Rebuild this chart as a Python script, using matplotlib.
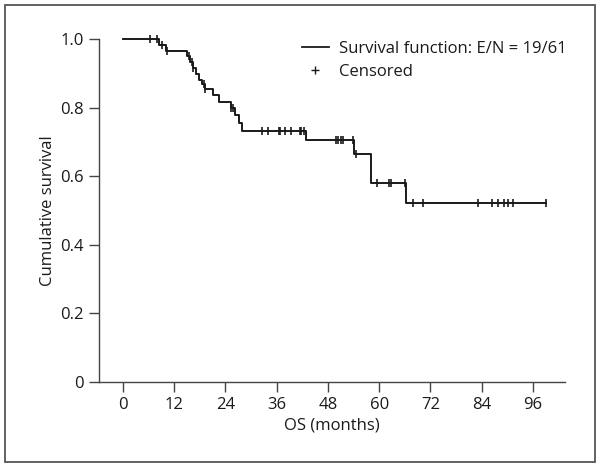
import matplotlib
matplotlib.use("Agg")
import matplotlib.pyplot as plt
import numpy as np
from matplotlib.lines import Line2D
from matplotlib.patches import Rectangle

# step function (time in months, survival after the step)
step_times = [0, 8.4, 10.2, 15.1, 15.8, 16.5, 17.2, 17.9, 18.6, 19.2, 21.2, 22.5,
              25.3, 26.2, 27.1, 27.8, 42.8, 54.2, 58.0, 66.3]
survival = [1.0, 0.984, 0.966, 0.950, 0.933, 0.916, 0.899, 0.882, 0.869, 0.856, 0.836, 0.817,
            0.800, 0.778, 0.755, 0.733, 0.705, 0.664, 0.581, 0.523]
last_time = 99.0

# censored observations
censor_times = [6.4, 8.0, 9.1, 10.4, 15.5, 16.1, 16.5, 19.0, 19.3, 25.3, 25.7,
                32.5, 33.9, 36.5, 36.8, 37.9, 39.3, 41.4, 41.8, 42.4,
                49.9, 50.4, 51.0, 51.6, 53.9, 54.6, 59.4, 62.4, 62.7, 66.0, 67.8, 70.2,
                83.2, 86.5, 87.7, 89.1, 90.2, 91.4, 99.0]

x_ticks = [0, 12, 24, 36, 48, 60, 72, 84, 96]
y_ticks = [0, 0.2, 0.4, 0.6, 0.8, 1.0]
y_labels = ["0", "0.2", "0.4", "0.6", "0.8", "1.0"]

plt.rcParams['font.family'] = ['Open Sans', 'DejaVu Sans']
plt.rcParams['font.size'] = 12

ink = "#1a1a1a"
grey = "#444444"

fig = plt.figure(figsize=(6, 4.67), dpi=100)
ax = fig.add_axes([0.165, 0.1826, 0.7767, 0.7332])

t = np.array(step_times + [last_time])
s = np.array(survival + [survival[-1]])
ax.step(t, s, where="post", color=ink, lw=1.4, clip_on=False, zorder=2)

idx = np.searchsorted(step_times, censor_times, side="right") - 1
cy = np.array(survival)[idx]
ax.plot(censor_times, cy, ls="none", marker="|", ms=6, mew=1.2, color=ink, clip_on=False, zorder=3)

ax.set_xlim(-5.6, 103.5)
ax.set_ylim(0, 1.0)
ax.set_xticks(x_ticks)
ax.set_yticks(y_ticks)
ax.set_yticklabels(y_labels)
for sp in ["top", "right"]:
    ax.spines[sp].set_visible(False)
for sp in ["left", "bottom"]:
    ax.spines[sp].set_color(grey)
    ax.spines[sp].set_linewidth(1.0)
ax.tick_params(colors=grey, labelcolor=ink, length=7, width=1.0, pad=4)
ax.set_xlabel("OS (months)", color=ink, labelpad=3)
ax.set_ylabel("Cumulative survival", color=ink, labelpad=3)

handles = [Line2D([], [], color=ink, lw=1.3),
           Line2D([], [], ls="none", marker="+", ms=6, mew=1.0, color=ink)]
ax.legend(handles, ["Survival function: E/N = 19/61", "Censored"], frameon=False,
          loc="upper right", bbox_to_anchor=(1.035, 1.04), handlelength=1.6,
          handletextpad=0.6, labelspacing=0.45, fontsize=12, labelcolor=ink)

# outer frame
fig.patches.append(Rectangle((5 / 600, 5 / 467), 590 / 600, 457 / 467, transform=fig.transFigure,
                             fill=False, edgecolor="#555555", lw=1.3))

fig.savefig("out.png", dpi=100)
